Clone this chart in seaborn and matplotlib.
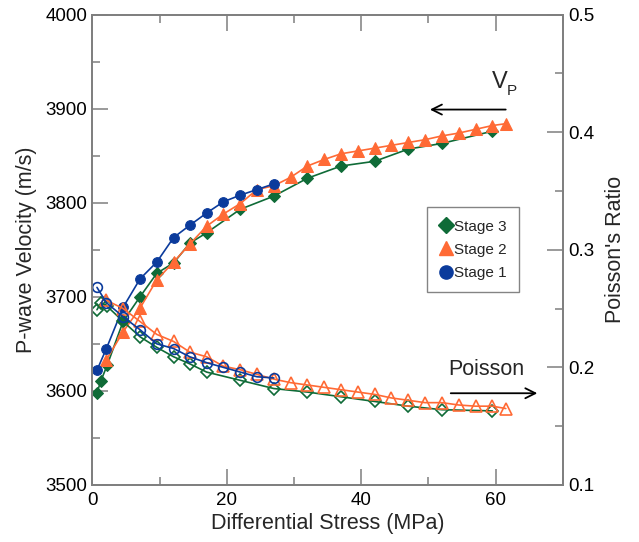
import matplotlib
matplotlib.use("Agg")
import matplotlib.pyplot as plt
import seaborn as sns
from matplotlib.lines import Line2D
from matplotlib.ticker import MultipleLocator

# ---------------- data ----------------
s1_stress = [0.7, 2.1, 4.6, 7.1, 9.6, 12.1, 14.5, 17.0, 19.5, 22.0, 24.5, 27.0]
s1_vp = [3622, 3645, 3689, 3719, 3737, 3763, 3776, 3789, 3801, 3808, 3814, 3820]
s1_pr = [0.268, 0.255, 0.243, 0.232, 0.220, 0.216, 0.209, 0.204, 0.200, 0.196, 0.192, 0.191]

s2_stress = [2.1, 4.6, 7.1, 9.6, 12.1, 14.5, 17.0, 19.5, 22.0, 24.5, 27.0, 29.5, 32.0,
             34.5, 37.0, 39.5, 42.0, 44.5, 47.0, 49.5, 52.0, 54.5, 57.0, 59.5, 61.5]
s2_vp = [3633, 3663, 3688, 3718, 3737, 3756, 3775, 3788, 3799, 3814, 3818, 3827, 3839,
         3846, 3852, 3855, 3858, 3861, 3864, 3867, 3871, 3874, 3878, 3882, 3884]
s2_pr = [0.257, 0.250, 0.239, 0.228, 0.222, 0.213, 0.209, 0.201, 0.198, 0.194, 0.190,
         0.187, 0.185, 0.183, 0.181, 0.179, 0.177, 0.174, 0.172, 0.170, 0.170, 0.168,
         0.167, 0.167, 0.165]

s3_stress = [0.7, 1.3, 2.2, 4.6, 7.1, 9.6, 12.1, 14.5, 17.0, 22.0, 27.0, 32.0, 37.0,
             42.0, 47.0, 52.0, 59.5]
s3_vp = [3598, 3611, 3627, 3674, 3700, 3725, 3736, 3757, 3768, 3793, 3807, 3826, 3839,
         3844, 3857, 3863, 3876]
s3_pr = [0.249, 0.255, 0.252, 0.239, 0.226, 0.217, 0.209, 0.203, 0.196, 0.189, 0.182,
         0.179, 0.175, 0.171, 0.167, 0.164, 0.163]

labels = ["Stage 3", "Stage 2", "Stage 1"]
colors = {"Stage 1": "#0b3b9c", "Stage 2": "#ff6a35", "Stage 3": "#0f6b37"}
markers = {"Stage 1": "o", "Stage 2": "^", "Stage 3": "D"}

# ---------------- figure ----------------
sns.set_style("ticks")
plt.rcParams["font.family"] = ["Liberation Sans", "DejaVu Sans"]

fig = plt.figure(figsize=(6.39, 5.42), dpi=100)
ax = fig.add_axes([0.1444, 0.1052, 0.881 - 0.1444, 0.9732 - 0.1052])
ax2 = ax.twinx()

series = {
    "Stage 3": (s3_stress, s3_vp, s3_pr),
    "Stage 2": (s2_stress, s2_vp, s2_pr),
    "Stage 1": (s1_stress, s1_vp, s1_pr),
}
msize = {"Stage 1": 7.0, "Stage 2": 8.0, "Stage 3": 6.0}

for name, (x, vp, pr) in series.items():
    c = colors[name]
    sns.lineplot(x=x, y=vp, ax=ax, color=c, marker=markers[name], markersize=msize[name],
                 markeredgecolor=c, markerfacecolor=c, linewidth=1.2, sort=False)
    sns.lineplot(x=x, y=pr, ax=ax2, color=c, marker=markers[name], markersize=msize[name],
                 markeredgecolor=c, markerfacecolor="none", markeredgewidth=1.2,
                 linewidth=1.2, sort=False)

ax.set_xlim(0, 70)
ax.set_ylim(3500, 4000)
ax2.set_ylim(0.1, 0.5)

ax.xaxis.set_major_locator(MultipleLocator(20))
ax.xaxis.set_minor_locator(MultipleLocator(10))
ax.yaxis.set_major_locator(MultipleLocator(100))
ax.yaxis.set_minor_locator(MultipleLocator(50))
ax2.yaxis.set_major_locator(MultipleLocator(0.1))
ax2.yaxis.set_minor_locator(MultipleLocator(0.05))
ax2.set_yticklabels(["%.1f" % v for v in ax2.get_yticks()])

spine_c = "#7f7f7f"
for a in (ax, ax2):
    for sp in a.spines.values():
        sp.set_color(spine_c)
        sp.set_linewidth(1.3)
        sp.set_visible(True)
    a.tick_params(which="both", direction="in", color=spine_c, width=1.1,
                  labelsize=13.5, labelcolor="black")
    a.tick_params(which="major", length=11.5)
    a.tick_params(which="minor", length=5.8)
ax.tick_params(which="both", top=True, right=False)
ax.tick_params(axis="x", pad=5)
ax2.tick_params(which="both", left=False, right=True, top=False)

ax.set_xlabel("Differential Stress (MPa)", fontsize=15.5, labelpad=3)
ax.set_ylabel("P-wave Velocity (m/s)", fontsize=15.5, labelpad=6)
ax2.set_ylabel("Poisson's Ratio", fontsize=15.5, labelpad=8)

# annotations
ax.text(59.4, 3922, "V", fontsize=17, ha="left", va="baseline")
ax.text(61.6, 3915, "P", fontsize=11, ha="left", va="baseline")
ax.annotate("", xy=(49.8, 3899), xytext=(61.9, 3899),
            arrowprops=dict(arrowstyle="->", color="black", lw=1.3, mutation_scale=18))
ax2.text(52.9, 0.1985, "Poisson", fontsize=15.5, ha="left", va="center")
ax2.annotate("", xy=(66.6, 0.178), xytext=(52.9, 0.178),
             arrowprops=dict(arrowstyle="->", color="black", lw=1.3, mutation_scale=18))

handles = [Line2D([], [], linestyle="none", marker=markers[n], color=colors[n],
                  markersize=msize[n] + 2.5) for n in labels]
leg = ax2.legend(handles, labels, loc="upper left", bbox_to_anchor=(0.712, 0.59),
                 fontsize=11, frameon=True, fancybox=False, handletextpad=0.05,
                 handlelength=0.9, borderpad=0.8, labelspacing=0.6, borderaxespad=0)
leg.get_frame().set_edgecolor("#666666")
leg.get_frame().set_linewidth(1.0)

fig.savefig("out.png", dpi=100)
